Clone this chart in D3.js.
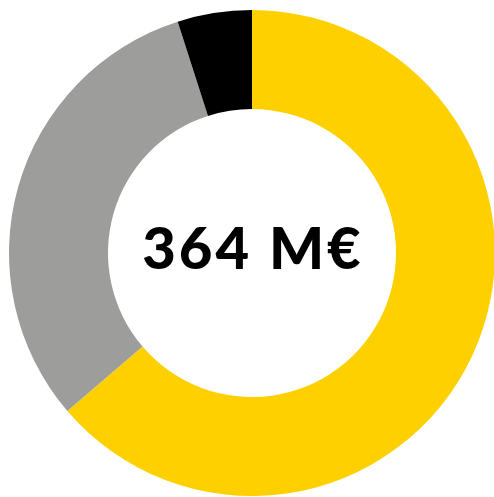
<!DOCTYPE html>
<html>
<head>
<meta charset="utf-8">
<script src="https://cdn.jsdelivr.net/npm/d3@7"></script>
<style>
  html, body { margin: 0; padding: 0; background: #fff; }
  svg { display: block; }
</style>
</head>
<body>
<svg id="chart" width="494" height="497"></svg>
<script>
// slices in M€, clockwise from 12 o'clock
const labels = ["A", "B", "C"]
const values = [232, 114, 18]
const colors = ["#FFD000", "#9D9D9C", "#000000"]
const centerLabel = "364 M€"

const width = 494, height = 497
const cx = 252, cy = 253
const outerR = 243, innerR = 144

const svg = d3.select('#chart')

const chart = svg.append('g')
  .attr('transform', `translate(${cx}, ${cy})`)

const pie = d3.pie()
  .sort(null)
  .value(d => d.value)

const arc = d3.arc()
  .innerRadius(innerR)
  .outerRadius(outerR)

const color = d3.scaleOrdinal()
  .domain(labels)
  .range(colors)

const data = labels.map((l, i) => ({label: l, value: values[i]}))

chart.selectAll('path')
  .data(pie(data))
  .join('path')
    .attr('d', arc)
    .attr('fill', d => color(d.data.label))

chart.append('text')
  .attr('x', 1)
  .attr('y', 16)
  .attr('text-anchor', 'middle')
  .style('font-family', 'Lato, "DejaVu Sans", sans-serif')
  .style('font-weight', 900)
  .style('font-size', '58px')
  .style('letter-spacing', '3px')
  .attr('fill', '#000')
  .text(centerLabel)
</script>
</body>
</html>
